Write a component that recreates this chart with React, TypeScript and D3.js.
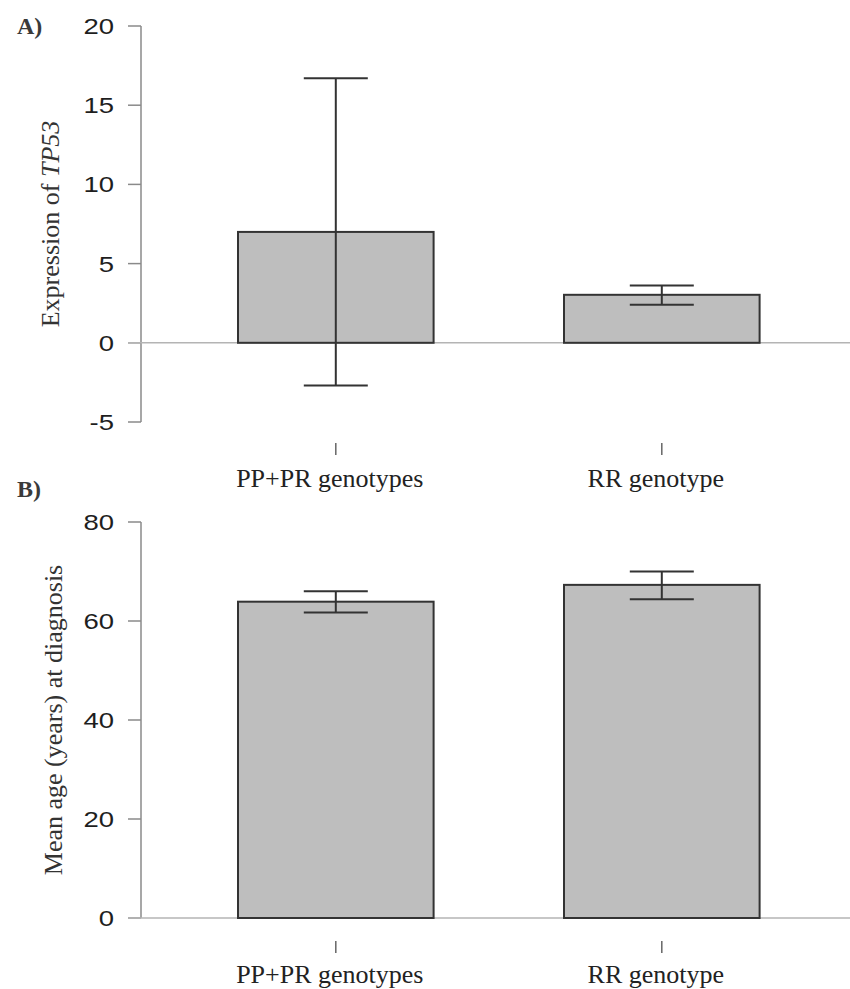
import React from 'react'
import * as d3 from 'd3'

const groups = ['PP+PR genotypes', 'RR genotype']

// panel A: expression of TP53
const exprMean = [7.0, 3.03]
const exprLow = [-2.7, 2.4]
const exprHigh = [16.7, 3.62]
const exprTicks = [-5, 0, 5, 10, 15, 20]

// panel B: mean age at diagnosis
const ageMean = [63.9, 67.3]
const ageLow = [61.7, 64.4]
const ageHigh = [66.0, 70.0]
const ageTicks = [0, 20, 40, 60, 80]

const W = 850
const H = 989
const axisX = 141

const x = d3.scaleBand<string>()
  .domain(groups)
  .range([107.6, 890])
  .paddingInner(0.4)
  .paddingOuter(0.4)

const serif = { fontFamily: "'Liberation Serif', 'Times New Roman', Times, serif" }
const sans = { fontFamily: "'Liberation Sans', Arial, Helvetica, sans-serif" }

function Panel(props: any) {
  const { y, ticks, mean, low, high, letter, letterY, title, titleX, tickTop, labelY } = props
  const [yBot, yTop] = y.range()
  const zero = y(0)
  const cx = (g: string) => (x(g) as number) + x.bandwidth() / 2
  return (
    <g>
      <text x={17} y={letterY} style={serif} fontWeight="bold" fontSize={24} fill="#3a3a3a">
        {letter}
      </text>
      {/* y axis */}
      <line x1={axisX} x2={axisX} y1={yTop} y2={yBot} stroke="#8a8a8a" strokeWidth={1.5} />
      {ticks.map((t: number) => (
        <g key={t}>
          <line x1={128} x2={axisX} y1={y(t)} y2={y(t)} stroke="#8a8a8a" strokeWidth={1.5} />
          <text
            transform={`translate(114,${y(t) + 8}) scale(1.25,1)`}
            textAnchor="end"
            style={sans}
            fontSize={22}
            fill="#1e1e1e"
          >
            {t}
          </text>
        </g>
      ))}
      {/* baseline */}
      <line x1={128} x2={W} y1={zero} y2={zero} stroke="#b4b4b4" strokeWidth={1.5} />
      <text
        transform={`translate(${titleX},${(yTop + yBot) / 2}) rotate(-90)`}
        textAnchor="middle"
        style={serif}
        fontSize={26}
        fill="#333"
      >
        {title}
      </text>
      {groups.map((g, i) => {
        const top = Math.min(y(mean[i]), zero)
        const c = cx(g)
        return (
          <g key={g}>
            <rect
              x={x(g)}
              y={top}
              width={x.bandwidth()}
              height={Math.abs(zero - y(mean[i]))}
              fill="#bebebe"
              stroke="#333"
              strokeWidth={2}
            />
            <line x1={c} x2={c} y1={y(high[i])} y2={y(low[i])} stroke="#333" strokeWidth={2} />
            <line x1={c - 32} x2={c + 32} y1={y(high[i])} y2={y(high[i])} stroke="#333" strokeWidth={2} />
            <line x1={c - 32} x2={c + 32} y1={y(low[i])} y2={y(low[i])} stroke="#333" strokeWidth={2} />
            <line x1={c} x2={c} y1={tickTop} y2={tickTop + 12} stroke="#666" strokeWidth={1.5} />
            <text x={c - 6} y={labelY} textAnchor="middle" style={serif} fontSize={26} fill="#222">
              {g}
            </text>
          </g>
        )
      })}
    </g>
  )
}

export default function App() {
  const yA = d3.scaleLinear().domain([-5, 20]).range([422, 26])
  const yB = d3.scaleLinear().domain([0, 80]).range([918, 522])
  return (
    <svg width={W} height={H} style={{ position: 'absolute', left: 0, top: 0 }}>
      <rect width={W} height={H} fill="#fff" />
      <Panel
        y={yA}
        ticks={exprTicks}
        mean={exprMean}
        low={exprLow}
        high={exprHigh}
        letter="A)"
        letterY={34}
        title={<>Expression of <tspan fontStyle="italic">TP53</tspan></>}
        titleX={59}
        tickTop={443}
        labelY={487}
      />
      <Panel
        y={yB}
        ticks={ageTicks}
        mean={ageMean}
        low={ageLow}
        high={ageHigh}
        letter="B)"
        letterY={497}
        title="Mean age (years) at diagnosis"
        titleX={62}
        tickTop={941}
        labelY={983}
      />
    </svg>
  )
}
